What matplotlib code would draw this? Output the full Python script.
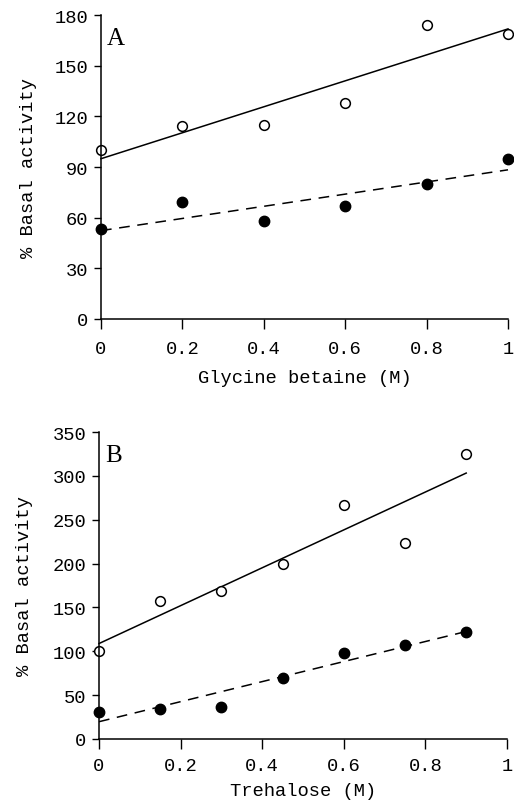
import matplotlib.pyplot as plt
import numpy as np

# Panel A: glycine betaine
gb_conc = [0, 0.2, 0.4, 0.6, 0.8, 1.0]
gb_open = [100, 114, 115, 128, 174, 169]
gb_filled = [53, 69, 58, 67, 80, 95]

# Panel B: trehalose
tr_conc = [0, 0.15, 0.3, 0.45, 0.6, 0.75, 0.9]
tr_open = [100, 157, 169, 200, 267, 224, 325]
tr_filled = [31, 34, 37, 69, 98, 107, 122]

mono = 'Liberation Mono'
W, H = 514, 803
fig = plt.figure(figsize=(W / 100, H / 100), dpi=100)


def panel(rect, x, y_open, y_filled, yticks, ymax, xlabel, letter, ypad, xtpad, xpad):
    ax = fig.add_axes(rect)
    x = np.array(x)
    for y, ls in [(y_open, '-'), (y_filled, (0, (7, 5)))]:
        k, b = np.polyfit(x, y, 1)
        ax.plot([x[0], x[-1]], [b, k * x[-1] + b], color='black', lw=1.1, ls=ls)
    ax.plot(x, y_open, 'o', mfc='white', mec='black', ms=7, mew=1.1)
    ax.plot(x, y_filled, 'o', mfc='black', mec='black', ms=7.5)
    ax.set_xlim(0, 1)
    ax.set_ylim(0, ymax)
    ax.set_xticks([0, 0.2, 0.4, 0.6, 0.8, 1])
    ax.set_xticklabels(['0', '0.2', '0.4', '0.6', '0.8', '1'])
    ax.set_yticks(yticks)
    for s in ['top', 'right']:
        ax.spines[s].set_visible(False)
    for s in ['left', 'bottom']:
        ax.spines[s].set_linewidth(1.1)
    ax.tick_params(direction='out', length=5, width=1, labelsize=13.5, pad=4)
    ax.tick_params(axis='x', length=7, pad=xtpad)
    for lab in ax.get_xticklabels() + ax.get_yticklabels():
        lab.set_family(mono)
    ax.set_xlabel(xlabel, family=mono, fontsize=13.5, labelpad=xpad)
    ax.set_ylabel('% Basal activity', family=mono, fontsize=13.5, labelpad=ypad)
    ax.text(0.015, 0.96, letter, transform=ax.transAxes, family='Liberation Serif',
            fontsize=18, va='top', ha='left')
    for a in ax.get_children():
        if hasattr(a, 'set_clip_on'):
            a.set_clip_on(False)
    return ax


def rect(l, r, t, b):
    return [l / W, 1 - b / H, (r - l) / W, (b - t) / H]


panel(rect(101, 508, 16, 320), gb_conc, gb_open, gb_filled,
      [0, 30, 60, 90, 120, 150, 180], 180, 'Glycine betaine (M)', 'A', 13, 8, 9)
panel(rect(99, 507, 433, 740), tr_conc, tr_open, tr_filled,
      [0, 50, 100, 150, 200, 250, 300, 350], 350, 'Trehalose (M)', 'B', 14, 6, 6)

fig.savefig('out.png', dpi=100, facecolor='white')
